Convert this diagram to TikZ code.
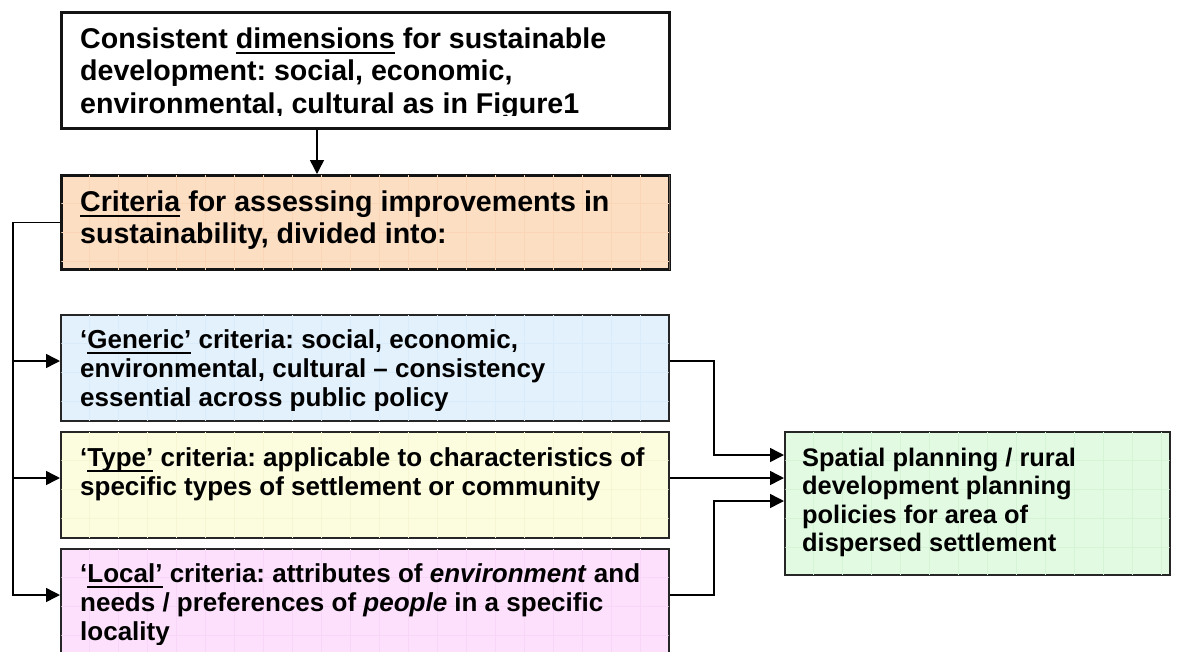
\documentclass[tikz,border=0pt]{standalone}
\usepackage{fontspec}
\setmainfont{Liberation Sans}
\usetikzlibrary{arrows.meta,calc}
\definecolor{cOr}{RGB}{252,222,195}
\definecolor{cBl}{RGB}{227,241,252}
\definecolor{cYe}{RGB}{252,252,223}
\definecolor{cPi}{RGB}{252,224,252}
\definecolor{cGr}{RGB}{225,250,225}
\definecolor{gOr}{RGB}{250,214,183}
\definecolor{gBl}{RGB}{218,235,250}
\definecolor{gYe}{RGB}{246,246,211}
\definecolor{gPi}{RGB}{247,214,247}
\definecolor{gGr}{RGB}{213,243,213}
\newcommand\myul[1]{\leavevmode\setbox0=\hbox{#1}\rlap{\rule[-6pt]{\wd0}{2.5pt}}\copy0\relax}
\newcommand\boxgrid[2]{%
  \begin{scope}
    \clip ($(#1.north west)+(1.3,1.3)$) rectangle ($(#1.south east)+(-1.3,-1.3)$);
    \draw[#2, line width=0.7pt, shift={(#1.north west)}, step=29pt] (0,0) grid (640,170);
  \end{scope}}
\begin{document}
\frenchspacing
\begin{tikzpicture}[x=1pt,y=-1pt,
  box/.style={anchor=north west, inner sep=0pt, draw=black!85, line width=2pt, minimum width=608pt},
  bigbox/.style={box, line width=2.6pt, draw=black!92},
  conn/.style={line width=1.5pt, draw=black},
  arr/.style={conn, -{Triangle[length=14pt,width=14pt]}},
  txt/.style={anchor=base west, inner sep=0pt, text=black},
  bigfont/.style={font=\fontsize{28.6pt}{32.5pt}\selectfont\bfseries\frenchspacing},
  smallfont/.style={font=\fontsize{26pt}{29pt}\selectfont\bfseries\frenchspacing},
  planfont/.style={font=\fontsize{25.4pt}{28.5pt}\selectfont\bfseries\frenchspacing},
]
\useasboundingbox (0,0) rectangle (1181,651);

% boxes
\node[bigbox, fill=white, minimum height=116pt] (top) at (60,11) {};
\node[bigbox, fill=cOr, minimum height=94pt] (crit) at (60,174) {};
\node[box, fill=cBl, minimum height=106pt] (gen) at (60,314) {};
\node[box, fill=cYe, minimum height=106pt] (typ) at (60,431) {};
\node[box, fill=cPi, minimum height=115pt] (loc) at (60,548) {};
\node[box, fill=cGr, minimum width=385pt, minimum height=143pt] (plan) at (784,431) {};

\boxgrid{crit}{gOr}
\boxgrid{gen}{gBl}
\boxgrid{typ}{gYe}
\boxgrid{loc}{gPi}
\boxgrid{plan}{gGr}

% texts
\begin{scope}
  \clip (top.north west) rectangle ($(top.north east)+(0,104)$);
  \node[txt, bigfont] (ttop) at ($(top.north west)+(20,37)$)
    {\parbox[t]{600pt}{Consistent \myul{dimensions} for sustainable\\development: social, economic,\\environmental, cultural as in Figure1}};
\end{scope}
\node[txt, bigfont] (tcrit) at ($(crit.north west)+(20,37)$)
  {\parbox[t]{600pt}{\myul{Criteria} for assessing improvements in\\sustainability, divided into:}};
\begin{scope}
  \clip (gen.north west) rectangle ($(gen.north east)+(0,96)$);
  \node[txt, smallfont] (tgen) at ($(gen.north west)+(20,34)$)
    {\parbox[t]{600pt}{‘\myul{Generic’} criteria: social, economic,\\environmental, cultural – consistency\\essential across public policy}};
\end{scope}
\node[txt, smallfont] (ttyp) at ($(typ.north west)+(20,35)$)
  {\parbox[t]{600pt}{‘\myul{Type’} criteria: applicable to characteristics of\\specific types of settlement or community}};
\begin{scope}
  \clip (loc.north west) rectangle ($(loc.north east)+(0,96)$);
  \node[txt, smallfont] (tloc) at ($(loc.north west)+(20,34)$)
    {\parbox[t]{600pt}{‘\myul{Local’} criteria: attributes of \textit{environment} and\\needs / preferences of \textit{people} in a specific\\locality}};
\end{scope}
\node[txt, planfont] (tplan) at ($(plan.north west)+(18,35)$)
  {\parbox[t]{370pt}{Spatial planning / rural\\development planning\\policies for area of\\dispersed settlement}};

% connector helpers
\coordinate (bx) at (13,0);
\coordinate (jx) at (714,0);
\coordinate (ax) at (317,0);
\coordinate (genIn) at ($(gen.north west)+(0,47)$);
\coordinate (typIn) at ($(typ.north west)+(0,47)$);
\coordinate (locIn) at ($(loc.north west)+(0,47)$);
\coordinate (genOut) at ($(gen.north east)+(0,47)$);
\coordinate (typOut) at ($(typ.north east)+(0,47)$);
\coordinate (locOut) at ($(loc.north east)+(0,47)$);
\coordinate (pIn1) at ($(plan.north west)+(0,24)$);
\coordinate (pIn2) at ($(plan.north west)+(0,47)$);
\coordinate (pIn3) at ($(plan.north west)+(0,70)$);

% connectors
\draw[arr] (top.south -| ax) -- (crit.north -| ax);
\draw[arr] (crit.west) -| (bx |- locIn) -- (locIn);
\draw[arr] (bx |- genIn) -- (genIn);
\draw[arr] (bx |- typIn) -- (typIn);
\draw[arr] (genOut) -| (jx |- pIn1) -- (pIn1);
\draw[arr] (typOut) -- (pIn2);
\draw[arr] (locOut) -| (jx |- pIn3) -- (pIn3);
\end{tikzpicture}
\end{document}
